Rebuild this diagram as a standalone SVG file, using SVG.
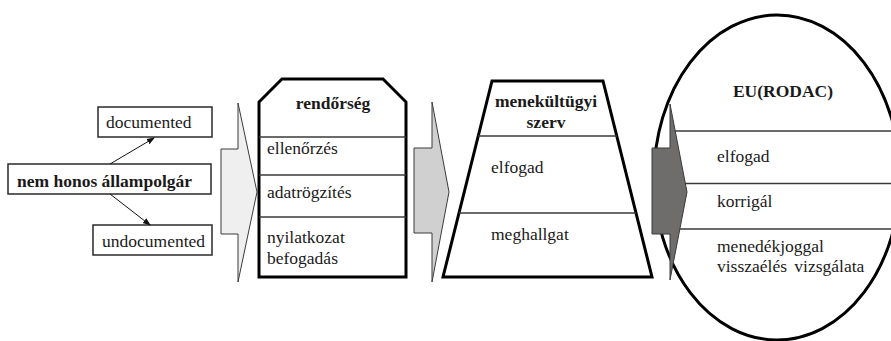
<svg xmlns="http://www.w3.org/2000/svg" width="891" height="341" viewBox="0 0 891 341">
  <style>
    text { font-size: 17.5px; fill: #1a1a1a; }
    .b { font-weight: bold; }
    .mid { text-anchor: middle; }
    .box { fill: #ffffff; stroke: #2a2a2a; stroke-width: 1.5; }
    .frame { fill: #ffffff; stroke: #000000; stroke-width: 3; stroke-linejoin: miter; }
    .div { stroke: #3a3a3a; stroke-width: 1.5; fill: none; }
    .flow { stroke: #3a3a3a; stroke-width: 1; }
    .link { stroke: #111111; stroke-width: 1; fill: none; }
  </style>
  <defs>
    <marker id="tip" markerUnits="userSpaceOnUse" markerWidth="8" markerHeight="8" viewBox="0 0 8 8" refX="7" refY="4" orient="auto">
      <path d="M0,1 L8,4 L0,7 Z" fill="#111111"/>
    </marker>
  </defs>

  <g font-family="Liberation Serif, serif">
    <!-- source node and its two outcomes -->
    <g id="nem-honos">
      <rect class="box" x="8" y="164" width="203" height="30"/>
      <text class="b" x="17" y="187">nem honos állampolgár</text>
    </g>
    <g id="documented">
      <rect class="box" x="98" y="107" width="114" height="30"/>
      <text x="106" y="128">documented</text>
    </g>
    <g id="undocumented">
      <rect class="box" x="93" y="225" width="119" height="30"/>
      <text x="102" y="247">undocumented</text>
    </g>

    <g id="connectors">
      <line class="link" x1="110" y1="164" x2="154" y2="138" marker-end="url(#tip)"/>
      <line class="link" x1="110" y1="194" x2="150" y2="225" marker-end="url(#tip)"/>
      <!-- block arrows between stages -->
      <polygon class="flow" fill="#efefef" points="221,149 238,149 238,103 257,192 238,282 238,234 221,234"/>
      <polygon class="flow" fill="#d0d0d0" points="414,148 432,148 432,102 449,192 432,282 432,233 414,233"/>
    </g>

    <!-- police stage -->
    <g id="rendorseg">
      <polygon class="frame" points="259,102 282,79 383,79 406,102 406,277 259,277"/>
      <line class="div" x1="259" y1="137" x2="406" y2="137"/>
      <line class="div" x1="259" y1="175" x2="406" y2="175"/>
      <line class="div" x1="259" y1="217" x2="406" y2="217"/>
      <text class="b mid" x="333" y="109">rendőrség</text>
      <text x="267" y="154">ellenőrzés</text>
      <text x="267" y="198">adatrögzítés</text>
      <text x="267" y="243">nyilatkozat</text>
      <text x="267" y="264">befogadás</text>
    </g>

    <!-- refugee authority stage -->
    <g id="menekultugyi-szerv">
      <polygon class="frame" points="492,81 603,81 652,277 443,277"/>
      <line class="div" x1="478" y1="136" x2="617" y2="136"/>
      <line class="div" x1="459" y1="213" x2="636" y2="213"/>
      <text class="b mid" x="546" y="107">menekültügyi</text>
      <text class="b mid" x="546" y="128">szerv</text>
      <text x="491" y="173">elfogad</text>
      <text x="491" y="240">meghallgat</text>
    </g>

    <!-- EU stage -->
    <g id="eu-rodac">
      <ellipse cx="777" cy="177.5" rx="123" ry="162.5" fill="#ffffff" stroke="#000000" stroke-width="3"/>
      <line class="div" x1="672" y1="131" x2="891" y2="131"/>
      <line class="div" x1="672" y1="183.5" x2="891" y2="183.5"/>
      <line class="div" x1="672" y1="229" x2="891" y2="229"/>
      <text class="b mid" x="783" y="97">EU(RODAC)</text>
      <text x="717" y="162">elfogad</text>
      <text x="717" y="207">korrigál</text>
      <text x="717" y="252">menedékjoggal</text>
      <text x="717" y="272" word-spacing="3">visszaélés vizsgálata</text>
    </g>

    <g id="arrow-to-eu">
      <polygon class="flow" fill="#6f6c6c" points="652,148 670,148 670,104 687,192 670,280 670,234 652,234"/>
    </g>
  </g>
</svg>
